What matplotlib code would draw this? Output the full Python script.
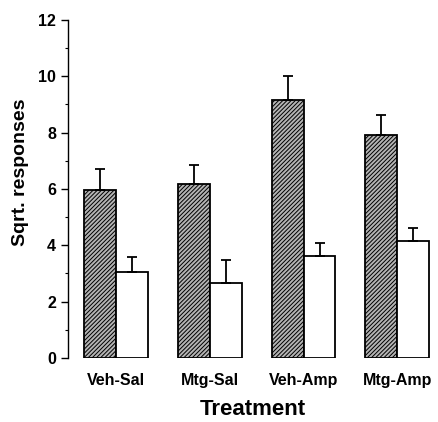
import numpy as np
import matplotlib
matplotlib.use("Agg")
import matplotlib.pyplot as plt

plt.rcParams['font.family'] = ['Liberation Sans', 'DejaVu Sans']
plt.rcParams['hatch.color'] = '#404040'
plt.rcParams['hatch.linewidth'] = 0.7

# Data
treatments = ['Veh-Sal', 'Mtg-Sal', 'Veh-Amp', 'Mtg-Amp']
dark_means = [5.95, 6.19, 9.15, 7.90]
dark_err = [0.75, 0.65, 0.85, 0.74]
white_means = [3.06, 2.67, 3.63, 4.16]
white_err = [0.52, 0.80, 0.45, 0.46]

fig = plt.figure(figsize=(4.39, 4.22), dpi=100)
ax = fig.add_axes([0.155, 0.1517, 0.84, 0.8009])

x = np.arange(len(treatments))
w = 0.34

ax.bar(x - w / 2, dark_means, w, color='#b4b4b4', edgecolor='black',
       linewidth=1.3, hatch='////////',
       yerr=[np.zeros(4), dark_err], capsize=3.5,
       error_kw=dict(elinewidth=1.3, capthick=1.3, ecolor='black'))
ax.bar(x + w / 2, white_means, w, color='white', edgecolor='black',
       linewidth=1.3,
       yerr=[np.zeros(4), white_err], capsize=3.5,
       error_kw=dict(elinewidth=1.3, capthick=1.3, ecolor='black'))

ax.set_xlim(-0.51, 3.42)
ax.set_ylim(0, 12)
ax.set_yticks(range(0, 13, 2))
ax.set_yticks(range(1, 12, 2), minor=True)
ax.tick_params(axis='y', which='major', length=5, width=1, labelsize=11.5)
ax.tick_params(axis='y', which='minor', length=2.5, width=0.8)
for lab in ax.get_yticklabels():
    lab.set_fontweight('bold')

ax.set_xticks(x)
ax.set_xticklabels(treatments, fontsize=11.5, fontweight='bold')
ax.tick_params(axis='x', length=0, pad=11)

for s in ['top', 'right', 'bottom']:
    ax.spines[s].set_visible(False)
ax.spines['left'].set_linewidth(1.0)

ax.set_ylabel('Sqrt. responses', fontsize=14, fontweight='bold')
ax.yaxis.set_label_coords(-0.105, 0.55)
ax.set_xlabel('Treatment', fontsize=16, fontweight='bold', labelpad=8)

fig.savefig('out.png', dpi=100)
